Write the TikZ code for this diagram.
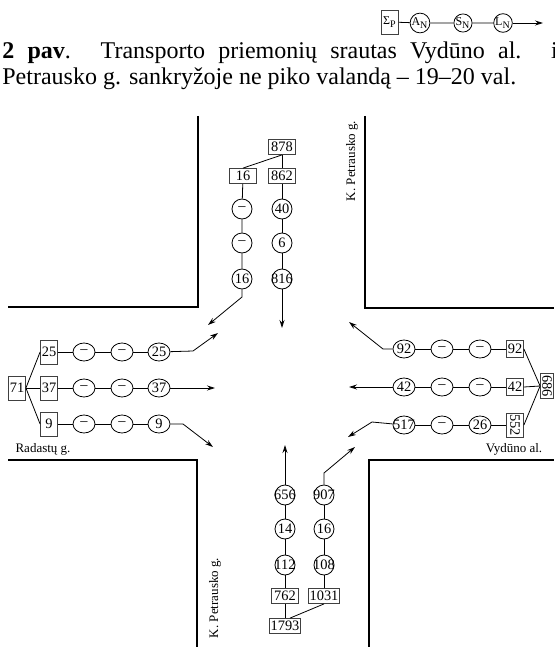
\documentclass[tikz,border=0pt]{standalone}
\usepackage{fontspec}
\usepackage{graphicx}
\setmainfont{Liberation Serif}
\usetikzlibrary{shapes.geometric,arrows.meta,calc}

\newcommand{\ov}[1]{\makebox[0pt]{#1}}

\begin{document}
\begin{tikzpicture}[x=0.5pt, y=-0.5pt, line width=0.4pt,
	box/.style = {draw=black!75, rectangle, inner sep=0.5pt, minimum width=13.5pt, minimum height=7.5pt, font=\fontsize{7.2}{8}\selectfont},
	tall/.style = {box, minimum width=8.5pt, minimum height=12pt},
	sq/.style = {box, minimum width=8.5pt, minimum height=8.5pt},
	main/.style = {draw, circle, inner sep=0pt, minimum size=10pt, font=\fontsize{7.2}{8}\selectfont},
	oval/.style = {draw, ellipse, inner sep=0pt, minimum width=11pt, minimum height=9pt, font=\fontsize{7.2}{8}\selectfont},
	leg/.style = {draw, circle, inner sep=0pt, minimum size=8.5pt, font=\fontsize{6}{7}\selectfont},
	road/.style = {line width=0.8pt},
	lbl/.style = {inner sep=0pt, font=\fontsize{6.5}{7}\selectfont},
	>={Stealth[length=4pt,width=2.5pt]}]

	\useasboundingbox (0,0) rectangle (554,647);

	% legend
	\node[tall, font=\fontsize{6}{7}\selectfont] (sp) at (390,22) {Σ\textsubscript{P}};
	\node[leg] (aN) at (420,23) {A\textsubscript{N}};
	\node[leg] (sN) at (463,23) {S\textsubscript{N}};
	\node[leg] (lN) at (503,23) {L\textsubscript{N}};
	\coordinate (legE) at (543,23);
	\draw (sp) -- (aN) -- (sN) -- (lN);
	\draw[->] (lN) -- (legE);

	% caption
	\node[anchor=base west, inner sep=0pt, font=\fontsize{12}{14}\selectfont] (cap1) at (2,59)
		{\makebox[300pt][s]{\textbf{2 pav}. Transporto priemonių srautas Vydūno al. ir K.}};
	\node[anchor=base west, inner sep=0pt, font=\fontsize{12}{14}\selectfont] (cap2) at (2,85)
		{Petrausko g. sankryžoje ne piko valandą – 19–20 val.};

	% roads
	\draw[road] (198,116) -- (198,307) -- (8,307);
	\draw[road] (365,116) -- (365,308) -- (554,308);
	\draw[road] (8,460) -- (197,460) -- (197,647);
	\draw[road] (369,647) -- (369,460) -- (554,460);

	\node[lbl, rotate=90] (ptop) at (352,161) {K. Petrausko g.};
	\node[lbl, rotate=90] (pbot) at (215,598) {K. Petrausko g.};
	\node[lbl] (rad) at (43,449) {Radastų g.};
	\node[lbl] (vyd) at (514,449) {Vydūno al.};

	% north approach
	\node[box] (b878) at (282,147) {878};
	\node[box] (b16) at (243,176) {16};
	\node[box] (b862) at (282,176) {862};
	\node[main] (t1) at (242,209) {–};
	\node[main] (t2) at (242,243) {–};
	\node[main] (t3) at (242,279) {16};
	\node[main] (t4) at (282,209) {40};
	\node[main] (t5) at (282,243) {6};
	\node[main] (t6) at (282,279) {\ov{816}};
	\coordinate (t3k) at (242,297);
	\coordinate (t3e) at (208,325);
	\coordinate (t6e) at (282,328);

	\draw (b878.south) -- (b16.north);
	\draw (b878) -- (b862);
	\draw (b16) -- (t1) -- (t2) -- (t3);
	\draw (b862) -- (t4) -- (t5) -- (t6);
	\draw[->] (t3) -- (t3k) -- (t3e);
	\draw[->] (t6) -- (t6e);

	% west approach
	\node[tall] (b71) at (17,388) {71};
	\node[tall] (b25) at (49,352) {25};
	\node[tall] (b37) at (49,388) {37};
	\node[tall] (b9) at (49,424) {9};
	\node[oval] (l11) at (84,352) {–};
	\node[oval] (l12) at (122,352) {–};
	\node[oval] (l13) at (159,352) {25};
	\node[oval] (l21) at (84,388) {–};
	\node[oval] (l22) at (122,388) {–};
	\node[oval] (l23) at (159,388) {37};
	\node[oval] (l31) at (84,424) {–};
	\node[oval] (l32) at (122,424) {–};
	\node[oval] (l33) at (159,424) {9};
	\coordinate (l1k) at (193,351);
	\coordinate (l1e) at (218,333);
	\coordinate (l2e) at (215,388);
	\coordinate (l3k) at (183,424);
	\coordinate (l3e) at (213,447);

	\draw (b71.east) -- (b25.west);
	\draw (b71.east) -- (b37.west);
	\draw (b71.east) -- (b9.west);
	\draw (b25) -- (l11) -- (l12) -- (l13);
	\draw (b37) -- (l21) -- (l22) -- (l23);
	\draw (b9) -- (l31) -- (l32) -- (l33);
	\draw[->] (l13) -- (l1k) -- (l1e);
	\draw[->] (l23) -- (l2e);
	\draw[->] (l33) -- (l3k) -- (l3e);

	% east approach
	\node[box, minimum width=6.5pt, minimum height=12.5pt] (b686) at (547,386) {\rotatebox{-90}{686}};
	\node[sq] (b92) at (515,349) {92};
	\node[sq] (b42) at (515,387) {42};
	\node[tall] (b552) at (515,425) {\rotatebox{-90}{552}};
	\node[oval] (r11) at (404,349) {92};
	\node[oval] (r12) at (442,349) {–};
	\node[oval] (r13) at (480,349) {–};
	\node[oval] (r21) at (404,387) {42};
	\node[oval] (r22) at (442,387) {–};
	\node[oval] (r23) at (480,387) {–};
	\node[oval] (r31) at (404,425) {\ov{517}};
	\node[oval] (r32) at (442,425) {–};
	\node[oval] (r33) at (480,425) {26};
	\coordinate (r1k) at (383,349);
	\coordinate (r1e) at (349,322);
	\coordinate (r2e) at (349,387);
	\coordinate (r3k) at (372,422);
	\coordinate (r3e) at (348,437);

	\draw (b686.west) -- (b92.east);
	\draw (b686.west) -- (b42.east);
	\draw (b686.west) -- (b552.east);
	\draw (b92) -- (r13) -- (r12) -- (r11);
	\draw (b42) -- (r23) -- (r22) -- (r21);
	\draw (b552) -- (r33) -- (r32) -- (r31);
	\draw[->] (r11) -- (r1k) -- (r1e);
	\draw[->] (r21) -- (r2e);
	\draw[->] (r31) -- (r3k) -- (r3e);

	% south approach
	\node[box] (b1793) at (285,626) {1793};
	\node[box] (b762) at (285,596) {762};
	\node[box] (b1031) at (324,596) {1031};
	\node[main] (u1) at (285,495) {\ov{656}};
	\node[main] (u2) at (285,529) {14};
	\node[main] (u3) at (285,565) {\ov{112}};
	\node[main] (u4) at (324,495) {\ov{907}};
	\node[main] (u5) at (324,529) {16};
	\node[main] (u6) at (324,565) {\ov{108}};
	\coordinate (u1e) at (285,445);
	\coordinate (u4k) at (324,473);
	\coordinate (u4e) at (355,447);

	\draw (b1793) -- (b762);
	\draw (b1031.south) -- ($(b1793.north)+(5,0)$);
	\draw (b762) -- (u3) -- (u2) -- (u1);
	\draw (b1031) -- (u6) -- (u5) -- (u4);
	\draw[->] (u1) -- (u1e);
	\draw[->] (u4) -- (u4k) -- (u4e);
\end{tikzpicture}
\end{document}
